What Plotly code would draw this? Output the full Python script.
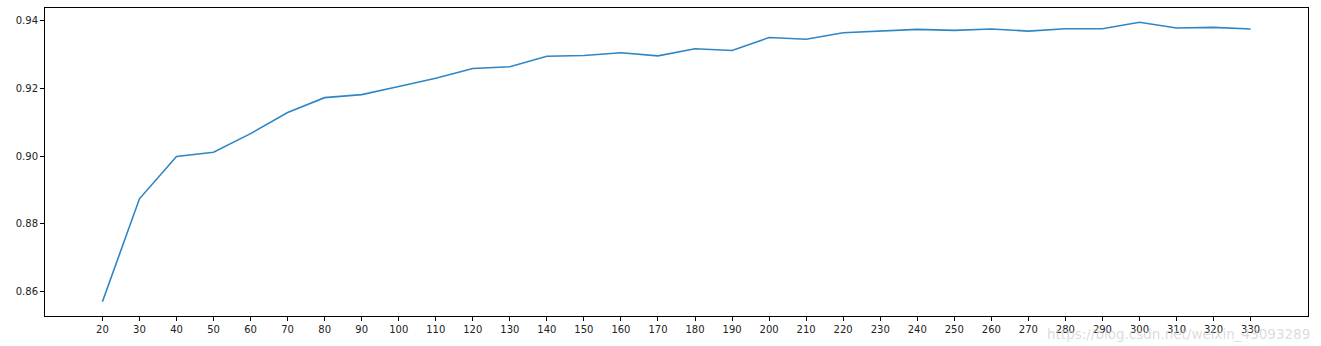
import plotly.graph_objects as go

x_values = list(range(20, 331, 10))
y_values = [0.8571, 0.8874, 0.8999, 0.9011, 0.9066, 0.9128, 0.9172, 0.9181, 0.9205, 0.9229,
            0.9258, 0.9263, 0.9294, 0.9296, 0.9304, 0.9295, 0.9316, 0.9311, 0.9349, 0.9344,
            0.9363, 0.9368, 0.9373, 0.9370, 0.9374, 0.9368, 0.9375, 0.9375, 0.9394, 0.9377,
            0.9379, 0.9374]
y_ticks = [0.86, 0.88, 0.90, 0.92, 0.94]
y_tick_labels = ["0.86", "0.88", "0.90", "0.92", "0.94"]
watermark = "https://blog.csdn.net/weixin_43093289"

fig = go.Figure()
fig.add_trace(go.Scatter(x=x_values, y=y_values, mode="lines",
                         line=dict(color="#2f86c6", width=1.6), showlegend=False))

axis_common = dict(showgrid=False, zeroline=False, showline=True, linecolor="#000000",
                   linewidth=1, mirror=True, ticks="outside", ticklen=4, tickwidth=1,
                   tickcolor="#000000", tickfont=dict(family="DejaVu Sans", size=10, color="#222222"))

fig.update_xaxes(range=[4.5, 345.5], tickmode="array", tickvals=x_values,
                 ticktext=[str(v) for v in x_values], **axis_common)
fig.update_yaxes(range=[0.8529, 0.9436], tickmode="array", tickvals=y_ticks,
                 ticktext=y_tick_labels, **axis_common)

fig.add_annotation(text=watermark, xref="paper", yref="paper", x=1.003, y=-0.025,
                   xanchor="right", yanchor="top", showarrow=False,
                   font=dict(family="DejaVu Sans", size=13.5, color="rgba(205,205,205,0.7)"))

fig.update_layout(width=1321, height=346, margin=dict(l=45, r=13, t=8, b=30),
                  paper_bgcolor="white", plot_bgcolor="white")

fig.write_html("out.html")
